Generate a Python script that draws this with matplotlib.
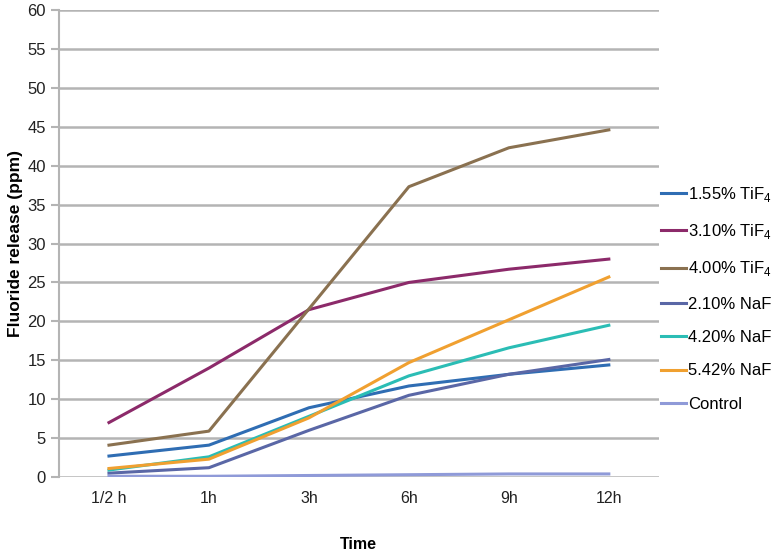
import matplotlib.pyplot as plt

plt.rcParams['font.family'] = ['Liberation Sans', 'DejaVu Sans']
plt.rcParams['mathtext.fontset'] = 'custom'
plt.rcParams['mathtext.rm'] = 'Liberation Sans'

# %% data
times = ["1/2 h", "1h", "3h", "6h", "9h", "12h"]
labels = ["1.55% TiF$_4$", "3.10% TiF$_4$", "4.00% TiF$_4$", "2.10% NaF", "4.20% NaF", "5.42% NaF", "Control"]
tif4_155 = [2.7, 4.1, 8.9, 11.7, 13.2, 14.4]
tif4_310 = [7.0, 14.0, 21.5, 25.0, 26.7, 28.0]
tif4_400 = [4.1, 5.9, 21.6, 37.3, 42.3, 44.6]
naf_210 = [0.5, 1.2, 6.0, 10.5, 13.2, 15.1]
naf_420 = [0.9, 2.6, 7.8, 13.0, 16.6, 19.5]
naf_542 = [1.1, 2.3, 7.6, 14.7, 20.2, 25.7]
control = [0.1, 0.1, 0.2, 0.3, 0.4, 0.4]
colors = ["#2f6db3", "#8c2a6a", "#8a7150", "#5a67a6", "#2bbdb5", "#f0a030", "#8f9ad8"]

series = [tif4_155, tif4_310, tif4_400, naf_210, naf_420, naf_542, control]

# %% plot
fig = plt.figure(figsize=(7.71, 5.56), dpi=100)
ax = fig.add_axes([0.0765, 0.142, 0.778, 0.840])

x = range(len(times))
for vals, lab, c in zip(series, labels, colors):
    ax.plot(x, vals, color=c, lw=2.2, label=lab)

ax.set_xlim(-0.5, len(times) - 0.5)
ax.set_ylim(0, 60)
ax.set_yticks(range(0, 61, 5))
ax.set_xticks(list(x))
ax.set_xticklabels(times)
ax.yaxis.grid(True, color="#b4b4b4", lw=1.8)
ax.set_axisbelow(True)
for s in ["top", "right", "bottom"]:
    ax.spines[s].set_visible(False)
ax.spines["left"].set_color("#b4b4b4")
ax.spines["left"].set_linewidth(1.5)
ax.tick_params(axis="y", length=6, color="#b4b4b4", width=1.5, labelsize=12, labelcolor="#222222")
ax.tick_params(axis="x", length=0, labelsize=11.5, pad=10, labelcolor="#222222")

ax.set_ylabel("Fluoride release (ppm)", fontsize=12.5, fontweight="bold", labelpad=3)
fig.text(0.465, 0.012, "Time", fontsize=11.5, fontweight="bold", ha="center")

ax.legend(loc="center left", bbox_to_anchor=(0.993, 0.383), frameon=False,
          fontsize=12, handlelength=1.5, handletextpad=0.1, labelspacing=1.1,
          borderaxespad=0)

fig.savefig("out.png", dpi=100)
